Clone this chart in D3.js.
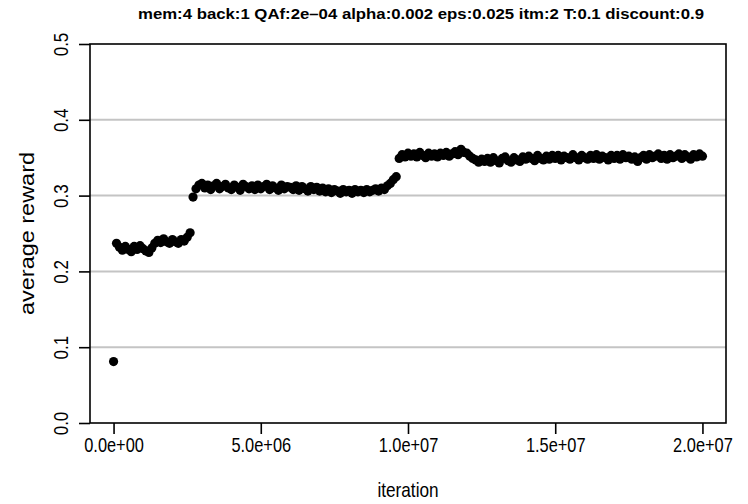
<!DOCTYPE html>
<html>
<head>
<meta charset="utf-8">
<script src="https://cdn.jsdelivr.net/npm/d3@7"></script>
<style>
  html, body { margin: 0; padding: 0; background: #fff; }
  svg { display: block; }
  text { font-family: "Liberation Sans", Arial, sans-serif; fill: #000; }
</style>
</head>
<body>
<svg id="chart" width="748" height="504"></svg>
<script>
const titleText = "mem:4 back:1 QAf:2e\u201304 alpha:0.002 eps:0.025 itm:2 T:0.1 discount:0.9";
const xLabel = "iteration";
const yLabel = "average reward";

const xTicks = [0, 5e6, 1e7, 1.5e7, 2e7];
const xTickLabels = ["0.0e+00", "5.0e+06", "1.0e+07", "1.5e+07", "2.0e+07"];
const yTicks = [0, 0.1, 0.2, 0.3, 0.4, 0.5];
const yTickLabels = ["0.0", "0.1", "0.2", "0.3", "0.4", "0.5"];
const gridValues = [0.1, 0.2, 0.3, 0.4];

// iteration, in millions
const iterationM = [
  0.0, 0.1, 0.2, 0.3, 0.4, 0.5, 0.6, 0.7, 0.8, 0.9,
  1.0, 1.1, 1.2, 1.3, 1.4, 1.5, 1.6, 1.7, 1.8, 1.9,
  2.0, 2.1, 2.2, 2.3, 2.4, 2.5, 2.6, 2.7, 2.8, 2.9,
  3.0, 3.1, 3.2, 3.3, 3.4, 3.5, 3.6, 3.7, 3.8, 3.9,
  4.0, 4.1, 4.2, 4.3, 4.4, 4.5, 4.6, 4.7, 4.8, 4.9,
  5.0, 5.1, 5.2, 5.3, 5.4, 5.5, 5.6, 5.7, 5.8, 5.9,
  6.0, 6.1, 6.2, 6.3, 6.4, 6.5, 6.6, 6.7, 6.8, 6.9,
  7.0, 7.1, 7.2, 7.3, 7.4, 7.5, 7.6, 7.7, 7.8, 7.9,
  8.0, 8.1, 8.2, 8.3, 8.4, 8.5, 8.6, 8.7, 8.8, 8.9,
  9.0, 9.1, 9.2, 9.3, 9.4, 9.5, 9.6, 9.7, 9.8, 9.9,
  10.0, 10.1, 10.2, 10.3, 10.4, 10.5, 10.6, 10.7, 10.8, 10.9,
  11.0, 11.1, 11.2, 11.3, 11.4, 11.5, 11.6, 11.7, 11.8, 11.9,
  12.0, 12.1, 12.2, 12.3, 12.4, 12.5, 12.6, 12.7, 12.8, 12.9,
  13.0, 13.1, 13.2, 13.3, 13.4, 13.5, 13.6, 13.7, 13.8, 13.9,
  14.0, 14.1, 14.2, 14.3, 14.4, 14.5, 14.6, 14.7, 14.8, 14.9,
  15.0, 15.1, 15.2, 15.3, 15.4, 15.5, 15.6, 15.7, 15.8, 15.9,
  16.0, 16.1, 16.2, 16.3, 16.4, 16.5, 16.6, 16.7, 16.8, 16.9,
  17.0, 17.1, 17.2, 17.3, 17.4, 17.5, 17.6, 17.7, 17.8, 17.9,
  18.0, 18.1, 18.2, 18.3, 18.4, 18.5, 18.6, 18.7, 18.8, 18.9,
  19.0, 19.1, 19.2, 19.3, 19.4, 19.5, 19.6, 19.7, 19.8, 19.9,
  20.0
];

const averageReward = [
  0.081, 0.237, 0.232, 0.228, 0.233, 0.229, 0.226, 0.233, 0.229, 0.234,
  0.230, 0.227, 0.225, 0.231, 0.237, 0.241, 0.238, 0.243, 0.239, 0.237,
  0.242, 0.239, 0.237, 0.242, 0.240, 0.245, 0.251, 0.298, 0.309, 0.314,
  0.316, 0.310, 0.314, 0.308, 0.313, 0.316, 0.309, 0.312, 0.315, 0.310,
  0.308, 0.314, 0.311, 0.307, 0.315, 0.312, 0.309, 0.313, 0.308, 0.314,
  0.309, 0.312, 0.315, 0.308, 0.313, 0.310, 0.307, 0.314, 0.309, 0.312,
  0.311, 0.308, 0.313, 0.307, 0.312, 0.309, 0.306, 0.312, 0.308, 0.311,
  0.306, 0.310, 0.305, 0.309, 0.304, 0.308, 0.306, 0.303, 0.308, 0.305,
  0.307, 0.303, 0.308, 0.305, 0.307, 0.304, 0.308, 0.305, 0.307, 0.309,
  0.306, 0.310, 0.308, 0.313, 0.316, 0.321, 0.325, 0.349, 0.354, 0.351,
  0.356, 0.352, 0.355, 0.351, 0.357, 0.353, 0.350, 0.356, 0.352, 0.355,
  0.351, 0.356, 0.353, 0.357, 0.352, 0.355, 0.358, 0.354, 0.361, 0.357,
  0.356, 0.352, 0.349, 0.347, 0.344, 0.348, 0.345, 0.349, 0.344, 0.350,
  0.346, 0.343, 0.349, 0.351, 0.346, 0.344, 0.350, 0.347, 0.345, 0.351,
  0.348, 0.352, 0.349, 0.346, 0.353, 0.349, 0.347, 0.352, 0.348, 0.353,
  0.349, 0.353, 0.347, 0.352, 0.350, 0.348, 0.354, 0.350, 0.347, 0.353,
  0.350, 0.348, 0.353, 0.349, 0.354, 0.348, 0.352, 0.350, 0.347, 0.353,
  0.349, 0.353, 0.348, 0.354, 0.350, 0.352, 0.348, 0.351, 0.345, 0.350,
  0.353, 0.348, 0.354, 0.350, 0.352, 0.355, 0.349, 0.353, 0.348, 0.354,
  0.350, 0.352, 0.355, 0.349, 0.354, 0.351, 0.348, 0.354, 0.351, 0.355,
  0.352
];

const data = iterationM.map((m, i) => ({ x: m * 1e6, y: averageReward[i] }));

const svg = d3.select("#chart");
const plotLeft = 90, plotRight = 726, plotTop = 44, plotBottom = 423;

const x = d3.scaleLinear().domain([-0.8e6, 20.8e6]).range([plotLeft, plotRight]);
const y = d3.scaleLinear().domain([0, 0.5]).range([plotBottom, plotTop]);

// grid lines
svg.append("g").selectAll("line").data(gridValues).join("line")
  .attr("x1", plotLeft).attr("x2", plotRight)
  .attr("y1", d => y(d)).attr("y2", d => y(d))
  .attr("stroke", "#c4c4c4").attr("stroke-width", 2);

// points
svg.append("g").selectAll("circle").data(data).join("circle")
  .attr("cx", d => x(d.x)).attr("cy", d => y(d.y))
  .attr("r", 4.6).attr("fill", "#000");

// box
svg.append("rect")
  .attr("x", plotLeft).attr("y", plotTop)
  .attr("width", plotRight - plotLeft).attr("height", plotBottom - plotTop)
  .attr("fill", "none").attr("stroke", "#000").attr("stroke-width", 1.6);

const fontFam = '"Liberation Sans", Arial, sans-serif';

// x axis
const xAxis = d3.axisBottom(x).tickValues(xTicks)
  .tickFormat((d, i) => xTickLabels[i]).tickSizeOuter(0).tickSize(11).tickPadding(4);
const gx = svg.append("g").attr("transform", `translate(0,${plotBottom})`).call(xAxis);
gx.select(".domain").remove();
gx.selectAll(".tick line").attr("stroke", "#000").attr("stroke-width", 1.6);
gx.selectAll(".tick text").attr("font-size", 20)
  .attr("transform", "scale(0.82,1)")
  .style("font-family", fontFam);

// y axis
const yAxis = d3.axisLeft(y).tickValues(yTicks)
  .tickFormat((d, i) => yTickLabels[i]).tickSizeOuter(0).tickSize(11).tickPadding(0);
const gy = svg.append("g").attr("transform", `translate(${plotLeft},0)`).call(yAxis);
gy.select(".domain").remove();
gy.selectAll(".tick line").attr("stroke", "#000").attr("stroke-width", 1.6);
gy.selectAll(".tick text")
  .attr("font-size", 20)
  .attr("x", null)
  .attr("text-anchor", "middle")
  .attr("transform", "translate(-29,0) rotate(-90) scale(0.85,1)")
  .attr("dy", "0.35em")
  .style("font-family", fontFam);

// title
svg.append("text")
  .attr("x", 421).attr("y", 19)
  .attr("text-anchor", "middle")
  .attr("font-size", 15.5).attr("font-weight", "bold")
  .attr("textLength", 566).attr("lengthAdjust", "spacingAndGlyphs")
  .text(titleText);

// axis labels
const cx = (plotLeft + plotRight) / 2;
svg.append("text")
  .attr("x", 0).attr("y", 0)
  .attr("text-anchor", "middle").attr("font-size", 20)
  .attr("transform", `translate(${cx},497) scale(0.86,1)`)
  .text(xLabel);

svg.append("text")
  .attr("transform", `translate(34,${(plotTop + plotBottom) / 2}) rotate(-90)`)
  .attr("text-anchor", "middle").attr("font-size", 19.5)
  .attr("textLength", 163).attr("lengthAdjust", "spacingAndGlyphs")
  .text(yLabel);
</script>
</body>
</html>
